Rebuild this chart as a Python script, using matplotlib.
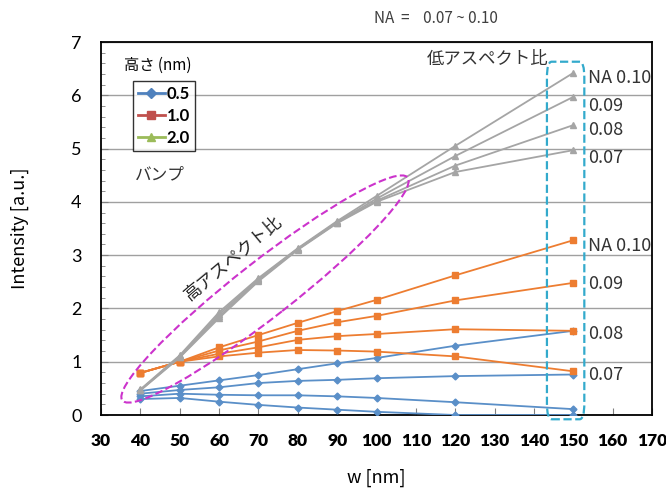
import matplotlib
matplotlib.use("Agg")
import matplotlib.pyplot as plt
from matplotlib.lines import Line2D
from matplotlib.patches import Ellipse, FancyBboxPatch
from matplotlib.ticker import MultipleLocator

plt.rcParams['font.family'] = ['Noto Sans CJK JP', 'DejaVu Sans']

# widths [nm]
w = [40, 50, 60, 70, 80, 90, 100, 120, 150]
na_labels = ["NA 0.10", "0.09", "0.08", "0.07"]

# height 0.5 nm, NA 0.10 .. 0.07
blue_vals = [
    [0.45, 0.55, 0.65, 0.75, 0.86, 0.97, 1.07, 1.30, 1.58],
    [0.40, 0.47, 0.52, 0.60, 0.64, 0.66, 0.69, 0.73, 0.76],
    [0.35, 0.40, 0.38, 0.37, 0.37, 0.35, 0.32, 0.24, 0.11],
    [0.30, 0.32, 0.25, 0.19, 0.14, 0.10, 0.06, 0.00, 0.00],
]
# height 1.0 nm
orange_vals = [
    [0.79, 1.00, 1.27, 1.50, 1.73, 1.95, 2.16, 2.62, 3.28],
    [0.79, 1.00, 1.21, 1.38, 1.58, 1.74, 1.86, 2.15, 2.48],
    [0.79, 1.00, 1.15, 1.27, 1.41, 1.48, 1.52, 1.61, 1.58],
    [0.79, 1.00, 1.10, 1.17, 1.22, 1.21, 1.19, 1.10, 0.82],
]
# height 2.0 nm
gray_vals = [
    [0.48, 1.12, 1.93, 2.57, 3.13, 3.64, 4.11, 5.05, 6.42],
    [0.47, 1.10, 1.89, 2.55, 3.12, 3.62, 4.06, 4.86, 5.97],
    [0.47, 1.09, 1.85, 2.53, 3.11, 3.61, 4.02, 4.68, 5.44],
    [0.46, 1.08, 1.82, 2.51, 3.10, 3.60, 4.00, 4.56, 4.97],
]
# label y positions at right side
gray_label_y = [6.33, 5.80, 5.35, 4.82]
orange_label_y = [3.18, 2.46, 1.52, 0.76]

legend_labels = ["0.5", "1.0", "2.0"]

fig = plt.figure(figsize=(6.66, 4.93), dpi=100)
ax = fig.add_axes([0.1517, 0.1582, 0.8273, 0.7566])

for ys in blue_vals:
    ax.plot(w, ys, color='#5A8FC8', lw=1.3, marker='D', ms=3.5, zorder=3)
for ys in orange_vals:
    ax.plot(w, ys, color='#ED7D31', lw=1.3, marker='s', ms=5, zorder=3)
for ys in gray_vals:
    ax.plot(w, ys, color='#A5A5A5', lw=1.3, marker='^', ms=4.5, zorder=3)

for lbl, y in zip(na_labels, gray_label_y):
    ax.text(153.8, y, lbl, fontsize=13, color='#333333', va='center', ha='left', clip_on=True)
for lbl, y in zip(na_labels, orange_label_y):
    ax.text(153.8, y, lbl, fontsize=13, color='#333333', va='center', ha='left', clip_on=True)

ax.set_xlim(30, 170)
ax.set_ylim(0, 7)
ax.xaxis.set_major_locator(MultipleLocator(10))
ax.yaxis.set_major_locator(MultipleLocator(1))
ax.yaxis.set_minor_locator(MultipleLocator(0.2))
ax.tick_params(axis='both', which='both', direction='in', color='#808080')
ax.tick_params(axis='x', which='major', length=5, pad=13)
ax.tick_params(axis='y', which='major', length=5, pad=14)
ax.tick_params(axis='y', which='minor', length=3)
for lab in ax.get_xticklabels():
    lab.set_family(['Lato', 'DejaVu Sans'])
    lab.set_fontweight('heavy')
    lab.set_fontsize(12.5)
for lab in ax.get_yticklabels():
    lab.set_family(['Lato', 'DejaVu Sans'])
    lab.set_fontsize(13)
ax.grid(axis='y', which='major', color='#A0A0A0', lw=1.0, zorder=0)
for s in ax.spines.values():
    s.set_color('black')
    s.set_linewidth(1.3)

ax.set_xlabel("w [nm]", fontsize=13, labelpad=14)
ax.set_ylabel("Intensity [a.u.]", fontsize=13, labelpad=30)

fig.text(0.655, 0.962, "NA  =    0.07 ~ 0.10", fontsize=11, color='#404040', ha='center', va='center')

# legend
handles = [
    Line2D([], [], color='#4F81BD', marker='D', ms=5, lw=2),
    Line2D([], [], color='#C0504D', marker='s', ms=6, lw=2),
    Line2D([], [], color='#9BBB59', marker='^', ms=6, lw=2),
]
leg = ax.legend(handles, legend_labels, loc='upper left', bbox_to_anchor=(0.043, 0.918),
                frameon=True, fancybox=False, edgecolor='black', handlelength=1.6,
                handletextpad=0.1, borderpad=0.3, labelspacing=0.35,
                prop={'weight': 'bold', 'size': 12, 'family': ['Lato', 'DejaVu Sans']})
leg.get_frame().set_linewidth(1.0)
ax.text(0.042, 0.914, "高さ (nm)", transform=ax.transAxes, fontsize=11, va='bottom', ha='left')

ax.text(0.062, 0.645, "バンプ", transform=ax.transAxes, fontsize=12, color='#333333', va='center')
ax.text(0.592, 0.955, "低アスペクト比", transform=ax.transAxes, fontsize=12.5, color='#333333', va='center')
ax.text(0.24, 0.42, "高アスペクト比", transform=ax.transAxes, fontsize=12.5, color='#222222',
        rotation=40, ha='center', va='center')

# annotation shapes (in inches, figure at 100 dpi)
ell = Ellipse((2.65, 2.04), 3.62, 0.56, angle=38, transform=fig.dpi_scale_trans,
              fill=False, ec='#CC33CC', ls='--', lw=1.5, zorder=4, clip_on=False)
ax.add_patch(ell)
box = FancyBboxPatch((143.3, -0.08), 9.5, 6.71, boxstyle="round,pad=0,rounding_size=1.2",
                     mutation_aspect=0.25, fill=False, ec='#33AACC', ls='--', lw=1.6,
                     zorder=4, clip_on=False)
ax.add_patch(box)

fig.savefig("out.png", dpi=100)
